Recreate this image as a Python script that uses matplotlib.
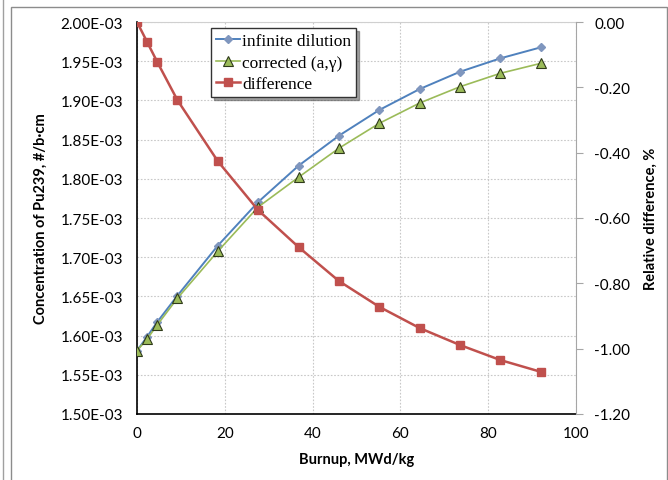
import numpy as np
import matplotlib
matplotlib.use('Agg')
import matplotlib.pyplot as plt
from matplotlib.patches import Rectangle
from matplotlib.lines import Line2D

# burnup points, MWd/kg
burnup = [0, 2.3, 4.6, 9.2, 18.4, 27.6, 36.8, 46, 55.2, 64.4, 73.6, 82.8, 92]
# Pu239 concentration, x1e-3 #/b-cm
inf_dil = [1.5807, 1.5986, 1.6173, 1.6509, 1.7147, 1.7704, 1.8167, 1.8550,
           1.8878, 1.9145, 1.9366, 1.9537, 1.9677]
corrected = [1.5807, 1.5957, 1.6135, 1.6476, 1.7075, 1.7640, 1.8020, 1.8390,
             1.8708, 1.8967, 1.9175, 1.9346, 1.9473]
# relative difference, %
diff = [0.0, -0.061, -0.122, -0.239, -0.426, -0.576, -0.689, -0.793,
        -0.872, -0.937, -0.989, -1.035, -1.071]

blue = '#4F81BD'
green = '#9BBB59'
red = '#C0504D'
lab_font = 'Lato'

fig = plt.figure(figsize=(6.68, 4.81), dpi=100)
# outer chart frame
fig.patches.append(Rectangle((11/668, -0.1), (667-11)/668, 1 - 8/481 + 0.1,
                             transform=fig.transFigure, fill=False,
                             edgecolor='#8C8C8C', linewidth=1.0))
fig.lines.append(Line2D([2.5/668, 2.5/668], [0, 1], transform=fig.transFigure,
                        color='#A0A0A0', linewidth=1.0))

ax = fig.add_axes([137/668, 1 - 415/481, (576-137)/668, (415-23)/481])
ax2 = ax.twinx()

x = np.array(burnup)
ax.plot(x, np.array(inf_dil) * 1e-3, color=blue, lw=1.4, marker='D', ms=4.5,
        mfc='#7F96BE', mec='#7F96BE', label='infinite dilution', zorder=3)
ax.plot(x, np.array(corrected) * 1e-3, color=green, lw=1.2, marker='^', ms=6.5,
        mfc=green, mec='#2F3A1A', mew=0.8, label='corrected (a,\u03b3)', zorder=3)
ax2.plot(x, diff, color=red, lw=1.8, marker='s', ms=6, mfc=red, mec=red,
         label='difference', zorder=3)

ax.set_xlim(0, 100)
ax.set_ylim(1.5e-3, 2.0e-3)
ax2.set_ylim(-1.2, 0.0)
ax.set_xticks(np.arange(0, 101, 20))
ax.set_yticks(np.arange(1.5e-3, 2.0001e-3, 0.05e-3))
ax2.set_yticks(np.arange(-1.2, 0.001, 0.2))
ax.set_yticklabels(['%.2E' % v for v in np.arange(1.5e-3, 2.0001e-3, 0.05e-3)])
ax2.set_yticklabels(['%.2f' % v if abs(v) > 1e-9 else '0.00'
                     for v in np.arange(-1.2, 0.001, 0.2)])

ax.grid(True, linestyle=(0, (1.5, 1.5)), color='#C8C8C8', linewidth=0.8)
ax.set_axisbelow(True)

ax.spines['top'].set_color('#D0D0D0')
ax2.spines['top'].set_visible(False)
ax.spines['right'].set_visible(False)
ax2.spines['left'].set_visible(False)
ax2.spines['bottom'].set_visible(False)
ax2.spines['right'].set_color('#A6A6A6')
ax.spines['left'].set_color('black')
ax.spines['bottom'].set_color('black')
ax.spines['left'].set_linewidth(1.2)
ax.spines['bottom'].set_linewidth(1.2)

ax.tick_params(axis='both', length=0, labelsize=11, pad=10)
ax.tick_params(axis='x', pad=9)
ax2.tick_params(axis='y', length=5, color='#A6A6A6', labelsize=11, pad=8)
for t in ax.get_xticklabels() + ax.get_yticklabels() + ax2.get_yticklabels():
    t.set_fontfamily(lab_font)

ax.set_xlabel('Burnup, MWd/kg', fontsize=10.5, fontweight='bold', family=lab_font, labelpad=8)
ax.set_ylabel('Concentration of Pu239, #/b\u00b7cm', fontsize=10.5, fontweight='bold',
              family=lab_font, labelpad=9)
ax2.set_ylabel('Relative difference, %', fontsize=10.5, fontweight='bold',
               family=lab_font, labelpad=10)

h1, l1 = ax.get_legend_handles_labels()
h2, l2 = ax2.get_legend_handles_labels()
leg = ax2.legend(h1 + h2, l1 + l2, loc='upper left', bbox_to_anchor=(0.168, 0.985),
                 prop={'family': 'Liberation Serif', 'size': 12.5},
                 frameon=True, fancybox=False, shadow=True, handlelength=1.4,
                 handletextpad=0.1, borderpad=0.3, labelspacing=0.3,
                 borderaxespad=0)
leg.get_frame().set_edgecolor('#333333')
leg.get_frame().set_linewidth(1.0)

fig.savefig('out.png', dpi=100)
